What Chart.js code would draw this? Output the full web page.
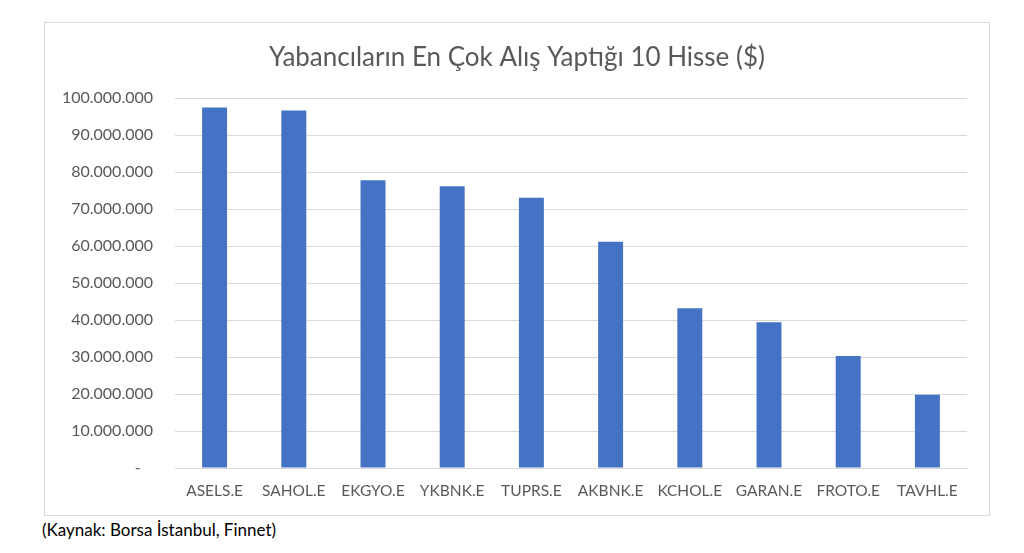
<!DOCTYPE html>
<html>
<head>
<meta charset="utf-8">
<script src="https://cdn.jsdelivr.net/npm/chart.js@4"></script>
<style>
  body { margin: 0; background: #fff; font-family: Lato, "Open Sans", sans-serif; }
  #frame { position: absolute; left: 44px; top: 22px; width: 944px; height: 492px; border: 1px solid #d9d9d9; }
  #source { position: absolute; left: 42px; top: 519px; font-size: 17px; color: #000; }
</style>
</head>
<body>
<div id="frame"><canvas id="chart" width="944" height="492"></canvas></div>
<div id="source">(Kaynak: Borsa İstanbul, Finnet)</div>
<script>
// hisseler ve yabancı alış tutarları ($)
const stocks = ["ASELS.E", "SAHOL.E", "EKGYO.E", "YKBNK.E", "TUPRS.E", "AKBNK.E", "KCHOL.E", "GARAN.E", "FROTO.E", "TAVHL.E"];
const buyAmounts = [97500000, 96700000, 77800000, 76200000, 73100000, 61200000, 43200000, 39400000, 30300000, 19800000];
const yTicks = [0, 10000000, 20000000, 30000000, 40000000, 50000000, 60000000, 70000000, 80000000, 90000000, 100000000];

function formatTr(v) {
  if (v === 0) return "-   ";
  return String(v).replace(/\B(?=(\d{3})+(?!\d))/g, ".");
}

const ctx = document.getElementById("chart").getContext("2d");
new Chart(ctx, {
  type: "bar",
  data: {
    labels: stocks,
    datasets: [{
      data: buyAmounts,
      backgroundColor: "#4472C4",
      categoryPercentage: 1,
      barPercentage: 0.315,
    }],
  },
  options: {
    responsive: false,
    animation: false,
    layout: { padding: 0 },
    plugins: {
      legend: { display: false },
      tooltip: { enabled: false },
      title: {
        display: true,
        text: "Yabancıların En Çok Alış Yaptığı 10 Hisse ($)",
        color: "#595959",
        font: { family: "Lato", size: 26, weight: "normal" },
        padding: { top: 19, bottom: 25 },
      },
    },
    scales: {
      x: {
        grid: { display: false, drawTicks: false },
        border: { display: true, color: "#d9d9d9", width: 1 },
        ticks: { color: "#595959", font: { family: "Lato", size: 15.5 }, padding: 14, maxRotation: 0 },
        afterFit: (s) => { s.height = 47; },
      },
      y: {
        min: 0,
        max: 100000000,
        afterBuildTicks: (s) => { s.ticks = yTicks.map((v) => ({ value: v })); },
        grid: { color: "#d9d9d9", lineWidth: 1, drawTicks: false },
        border: { display: false },
        ticks: { color: "#595959", font: { family: "Lato", size: 16 }, padding: 22, callback: (v) => formatTr(v) },
        afterFit: (s) => { s.width = 130; },
      },
      // empty right axis only reserves the right margin
      yRight: {
        position: "right",
        grid: { display: false, drawTicks: false },
        border: { display: false },
        ticks: { display: false },
        afterFit: (s) => { s.width = 22; },
      },
    },
  },
});
</script>
</body>
</html>
